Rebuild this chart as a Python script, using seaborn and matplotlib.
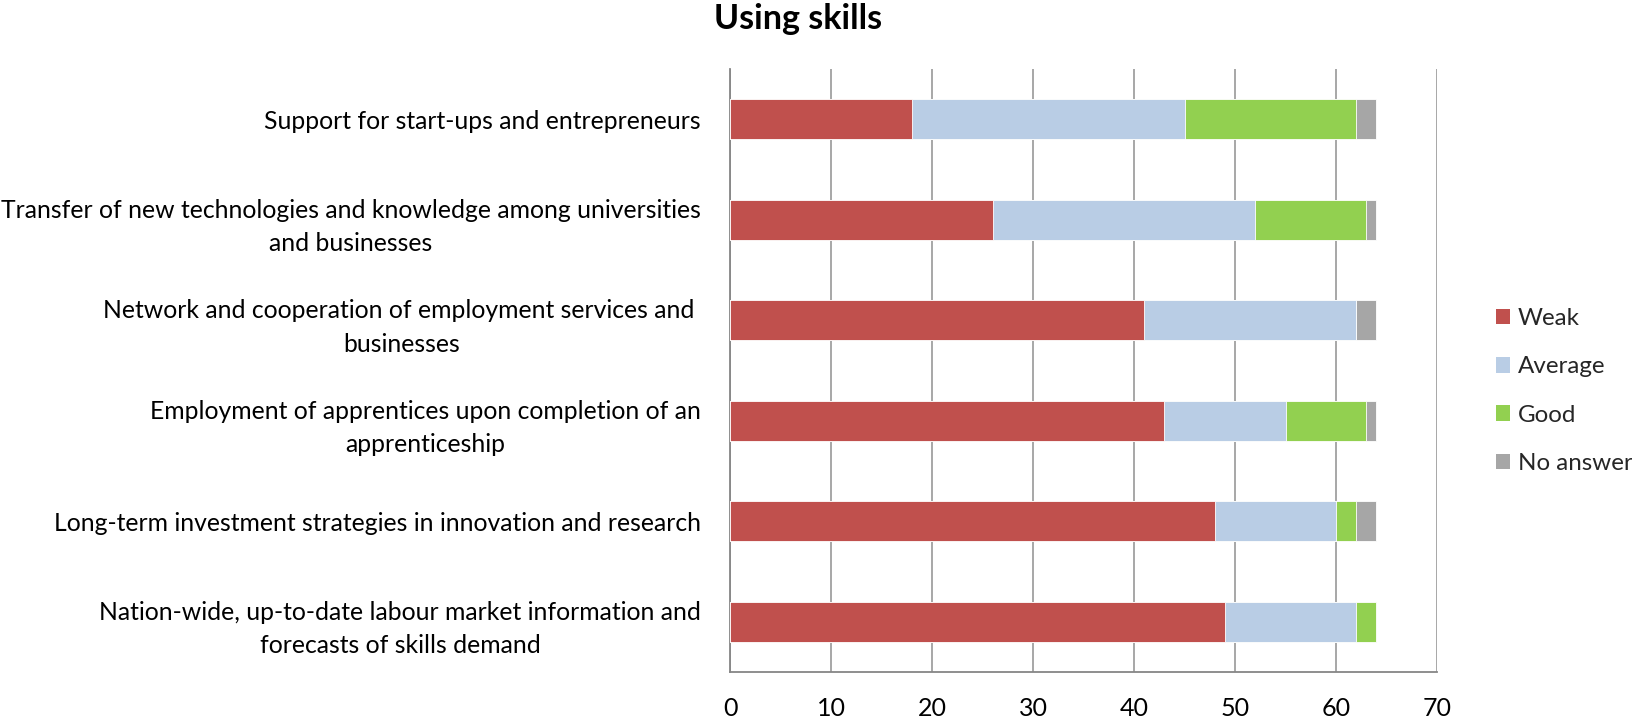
import numpy as np
import pandas as pd
import matplotlib
matplotlib.use("Agg")
import matplotlib.pyplot as plt
from matplotlib.patches import Patch
from matplotlib.ticker import FixedLocator
import seaborn as sns

# ── Data ─────────────────────────────────────────────────────────────────────
categories = [
    "Support for start-ups and entrepreneurs",
    "Transfer of new technologies and knowledge among universities\nand businesses",
    "Network and cooperation of employment services and \nbusinesses",
    "Employment of apprentices upon completion of an\napprenticeship",
    "Long-term investment strategies in innovation and research",
    "Nation-wide, up-to-date labour market information and\nforecasts of skills demand",
]
weak      = [18, 26, 41, 43, 48, 49]
average   = [27, 26, 21, 12, 12, 13]
good      = [17, 11,  0,  8,  2,  2]
no_answer = [ 2,  1,  2,  1,  2,  0]

series_names = ["Weak", "Average", "Good", "No answer"]
series_cols  = ["#C0504D", "#B9CDE5", "#92D050", "#A6A6A6"]

TITLE = "Using skills"

# ── Style ────────────────────────────────────────────────────────────────────
sns.set_style("white")
plt.rcParams["font.family"] = ["Lato", "DejaVu Sans"]
GRID_COL = "#A0A0A0"
AXIS_COL = "#868686"
TEXT_COL = "#000000"

df = pd.DataFrame({"category": categories, "Weak": weak, "Average": average,
                   "Good": good, "No answer": no_answer})
# running totals so the segments stack when drawn back to front
stack = df[series_names].cumsum(axis=1)

fig = plt.figure(figsize=(16.32, 7.23), dpi=100)
ax = fig.add_axes([730 / 1632, 51 / 723, 707 / 1632, 603 / 723])

for name, col in reversed(list(zip(series_names, series_cols))):
    sns.barplot(x=stack[name], y=df["category"], orient="h", ax=ax,
                color=col, width=0.4, edgecolor="white", linewidth=0.6,
                saturation=1, zorder=3)

ax.set_xlim(0, 70)
ax.set_ylim(5.5, -0.5)
ax.set_xticks(np.arange(0, 71, 10))
ax.xaxis.grid(True, color=GRID_COL, linewidth=1.3, zorder=0)
ax.yaxis.grid(False)
ax.set_xlabel("")
ax.set_ylabel("")

for s in ["top", "right"]:
    ax.spines[s].set_visible(False)
for s in ["left", "bottom"]:
    ax.spines[s].set_color(AXIS_COL)
    ax.spines[s].set_linewidth(1.3)

ax.tick_params(axis="x", direction="out", length=5.8, width=1.3,
               color=AXIS_COL, labelsize=18, pad=12.5, labelcolor=TEXT_COL)
ax.tick_params(axis="y", which="major", length=0, pad=21,
               labelsize=17.8, labelcolor=TEXT_COL)
for t in ax.get_yticklabels():
    t.set_multialignment("center")
    t.set_linespacing(1.55)
ax.yaxis.set_minor_locator(FixedLocator(np.arange(-0.5, 6, 1)))
ax.tick_params(axis="y", which="minor", direction="out", length=6,
               width=1.3, color=AXIS_COL)

fig.text(798 / 1632, 1 - 19 / 723, TITLE, ha="center", va="center",
         fontsize=24.5, fontweight="bold", color=TEXT_COL)

handles = [Patch(facecolor=c, edgecolor="none") for c in series_cols]
fig.legend(handles, series_names, loc="center left",
           bbox_to_anchor=(1474 / 1632, 1 - 391 / 723), frameon=False,
           fontsize=17.4, handlelength=0.6, handleheight=0.6,
           handletextpad=0.3, labelspacing=1.13)

fig.savefig("out.png", dpi=100, facecolor="white")
